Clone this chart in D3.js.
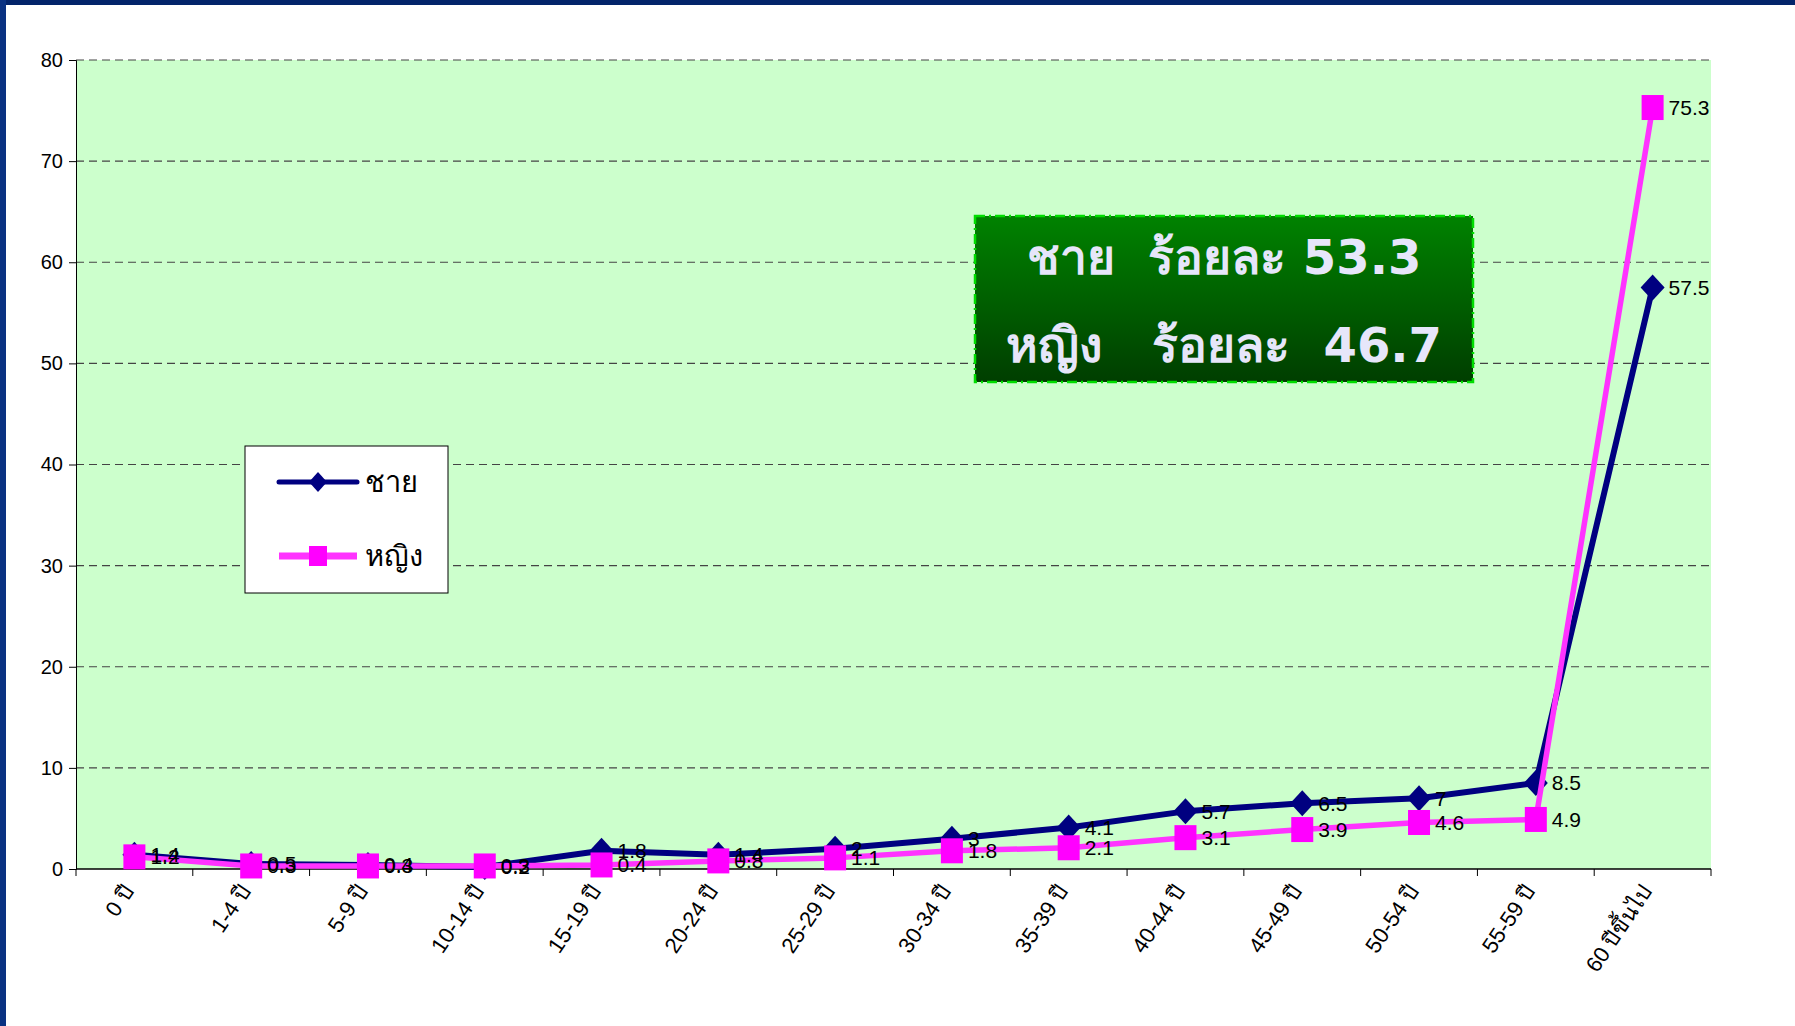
<!DOCTYPE html>
<html>
<head>
<meta charset="utf-8">
<script src="https://cdn.jsdelivr.net/npm/d3@7"></script>
<style>
  body { margin: 0; background: #fff; }
  svg { display: block; }
</style>
</head>
<body>
<svg id="canvas" width="1795" height="1026"></svg>
<script>
let ageGroups=["0 ปี","1-4 ปี","5-9 ปี","10-14 ปี","15-19 ปี","20-24 ปี","25-29 ปี","30-34 ปี","35-39 ปี","40-44 ปี","45-49 ปี","50-54 ปี","55-59 ปี","60 ปีขึ้นไป"];
let maleValues=[1.4,0.5,0.4,0.2,1.8,1.4,2,3,4.1,5.7,6.5,7,8.5,57.5];
let femaleValues=[1.2,0.3,0.3,0.3,0.4,0.8,1.1,1.8,2.1,3.1,3.9,4.6,4.9,75.3];
let yTicks=[0,10,20,30,40,50,60,70,80];
let seriesNames=["ชาย","หญิง"];
let summaryLines=["ชาย  ร้อยละ 53.3","หญิง   ร้อยละ  46.7"];

let canvas=d3.select("#canvas");

let plot={left:76,right:1711,top:60,bottom:869};

// frame bars
canvas.append("rect").attr("x",0).attr("y",0).attr("width",1795).attr("height",5).attr("fill","#03246a");
canvas.append("rect").attr("x",0).attr("y",0).attr("width",6).attr("height",1026).attr("fill","#0a3282");

let xScale=d3.scaleBand().domain(ageGroups).range([plot.left,plot.right]);
let yScale=d3.scaleLinear().domain([0,80]).range([plot.bottom,plot.top]);

canvas.append("rect")
  .attr("x",plot.left).attr("y",plot.top)
  .attr("width",plot.right-plot.left).attr("height",plot.bottom-plot.top)
  .attr("fill","#ccffcc");

// gridlines
canvas.append("g")
  .selectAll("line")
  .data(yTicks.filter(d=>d>0))
  .enter()
  .append("line")
  .attr("x1",plot.left).attr("x2",plot.right)
  .attr("y1",d=>yScale(d)).attr("y2",d=>yScale(d))
  .attr("stroke","#444").attr("stroke-width",1.2)
  .attr("stroke-dasharray","8,5");

// y axis
let yAxis=canvas.append("g")
  .attr("transform","translate("+plot.left+",0)")
  .call(d3.axisLeft(yScale).tickValues(yTicks).tickSize(7).tickPadding(6));
yAxis.select(".domain").attr("stroke","#000");
yAxis.selectAll("line").attr("stroke","#000");
yAxis.selectAll("text").attr("font-family","'Liberation Sans',Arial,sans-serif").attr("font-size",20).attr("fill","#000");

// x axis
let xAxis=canvas.append("g")
  .attr("transform","translate(0,"+plot.bottom+")");
xAxis.append("line").attr("x1",plot.left).attr("x2",plot.right).attr("stroke","#000").attr("stroke-width",1.5);
xAxis.selectAll(".tk")
  .data(ageGroups.concat(["end"]))
  .enter()
  .append("line")
  .attr("x1",(d,i)=>plot.left+i*xScale.step())
  .attr("x2",(d,i)=>plot.left+i*xScale.step())
  .attr("y1",0).attr("y2",7)
  .attr("stroke","#000");
xAxis.selectAll("text")
  .data(ageGroups)
  .enter()
  .append("text")
  .attr("transform",(d)=>"translate("+(xScale(d)+xScale.bandwidth()/2-6)+",18) rotate(-56)")
  .attr("text-anchor","end")
  .attr("dy","0.35em")
  .attr("font-family","'Liberation Sans',Arial,sans-serif")
  .attr("font-size",22)
  .text(d=>d);

let cx=(i)=>xScale(ageGroups[i])+xScale.bandwidth()/2;
let line=d3.line().x((d,i)=>cx(i)).y(d=>yScale(d));

// male series
canvas.append("path").datum(maleValues)
  .attr("d",line).attr("fill","none")
  .attr("stroke","#000080").attr("stroke-width",6).attr("stroke-linejoin","round");
canvas.append("g").selectAll("path")
  .data(maleValues).enter().append("path")
  .attr("d","M0,-13L12,0L0,13L-12,0Z")
  .attr("transform",(d,i)=>"translate("+cx(i)+","+yScale(d)+")")
  .attr("fill","#000080");

// female series
canvas.append("path").datum(femaleValues)
  .attr("d",line).attr("fill","none")
  .attr("stroke","#ff33ff").attr("stroke-width",5.5).attr("stroke-linejoin","round");
canvas.append("g").selectAll("rect")
  .data(femaleValues).enter().append("rect")
  .attr("x",(d,i)=>cx(i)-11).attr("y",d=>yScale(d)-12.5)
  .attr("width",22).attr("height",25)
  .attr("fill","#ff00ff");

// data labels
let addLabels=(vals)=>{
  canvas.append("g").selectAll("text")
    .data(vals).enter().append("text")
    .attr("x",(d,i)=>cx(i)+16).attr("y",d=>yScale(d))
    .attr("dy","0.35em")
    .attr("font-family","'Liberation Sans',Arial,sans-serif")
    .attr("font-size",21)
    .attr("fill","#000")
    .text(d=>d);
};
addLabels(maleValues);
addLabels(femaleValues);

// legend
let legend=canvas.append("g");
legend.append("rect").attr("x",245).attr("y",446).attr("width",203).attr("height",147)
  .attr("fill","#fff").attr("stroke","#000").attr("stroke-width",1);
let legendY=[482,556];
let legendColors=["#000080","#ff33ff"];
seriesNames.forEach((name,i)=>{
  legend.append("line").attr("x1",279).attr("x2",357).attr("y1",legendY[i]).attr("y2",legendY[i])
    .attr("stroke",legendColors[i]).attr("stroke-width",i===0?5:7)
    .attr("stroke-linecap",i===0?"round":"butt");
  if(i===0){
    legend.append("path").attr("d","M0,-10L9,0L0,10L-9,0Z")
      .attr("transform","translate(318,"+legendY[i]+")").attr("fill","#000080");
  }else{
    legend.append("rect").attr("x",309).attr("y",legendY[i]-10).attr("width",18).attr("height",20)
      .attr("fill","#ff00ff");
  }
  legend.append("text").attr("x",365).attr("y",legendY[i]).attr("dy","0.35em")
    .attr("font-family","Tahoma,'DejaVu Sans',sans-serif").attr("font-size",29)
    .text(name);
});

// summary box
let defs=canvas.append("defs");
let grad=defs.append("linearGradient").attr("id","boxGrad").attr("x1",0).attr("x2",0).attr("y1",0).attr("y2",1);
grad.append("stop").attr("offset","0%").attr("stop-color","#008200");
grad.append("stop").attr("offset","100%").attr("stop-color","#003e00");
let box=canvas.append("g");
box.append("rect").attr("x",975).attr("y",216).attr("width",498).attr("height",166)
  .attr("fill","url(#boxGrad)")
  .attr("stroke","#00dd00").attr("stroke-width",2.5).attr("stroke-dasharray","10,4,2,4");
box.selectAll("text")
  .data(summaryLines).enter().append("text")
  .attr("x",1224).attr("y",(d,i)=>[274,362][i])
  .attr("text-anchor","middle")
  .attr("xml:space","preserve")
  .style("white-space","pre")
  .attr("font-family","Tahoma,'DejaVu Sans',sans-serif")
  .attr("font-weight","bold")
  .attr("font-size",48)
  .attr("fill","#e6e6fa")
  .text(d=>d);
</script>
</body>
</html>
